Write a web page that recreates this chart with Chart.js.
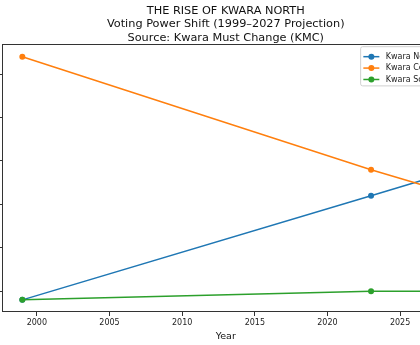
<!DOCTYPE html>
<html>
<head>
<meta charset="utf-8">
<script src="https://cdn.jsdelivr.net/npm/chart.js@4.4.1/dist/chart.umd.min.js"></script>
<style>
  html, body { margin: 0; padding: 0; background: #fff; overflow: hidden; width: 420px; height: 345px; }
  #wrap { position: absolute; left: -38px; top: 0; width: 526px; height: 345px; }
</style>
</head>
<body>
<div id="wrap"><canvas id="chart" width="526" height="345"></canvas></div>
<script>
// data
const years = [1999, 2023, 2027];
const north = [24, 36, 38];
const central = [52, 39, 37];
const south = [24, 25, 25];
const seriesNames = ['Kwara North', 'Kwara Central', 'Kwara South'];
const xTicks = [2000, 2005, 2010, 2015, 2020, 2025];
const yTicks = [25, 30, 35, 40, 45, 50];

const colors = ['#1f77b4', '#ff7f0e', '#2ca02c'];
const FONT = 'DejaVu Sans';

const toPoints = vals => years.map((y, i) => ({ x: y, y: vals[i] }));

// matplotlib style box around the axes
const framePlugin = {
  id: 'frame',
  afterDatasetsDraw(chart) {
    const a = chart.chartArea;
    const ctx = chart.ctx;
    ctx.save();
    ctx.strokeStyle = '#333';
    ctx.lineWidth = 1;
    const l = Math.round(a.left) + 0.5, t = Math.floor(a.top) + 0.5;
    const r = Math.round(a.right) + 0.5, b = Math.round(a.bottom) - 0.5;
    ctx.strokeRect(l, t, r - l, b - t);
    ctx.restore();
  }
};

// legend in the upper right corner, inside the axes
const boxLegend = {
  id: 'boxLegend',
  afterDraw(chart) {
    const ctx = chart.ctx;
    const a = chart.chartArea;
    const ds = chart.data.datasets;
    ctx.save();
    ctx.font = '8px "' + FONT + '"';
    const textW = Math.max(...ds.map(d => ctx.measureText(d.label).width));
    const pad = 3.2, handle = 16, gap = 6.4, rowH = 11.4;
    const w = pad + handle + gap + textW + pad;
    const h = rowH * ds.length + 5;
    const right = a.right - 4;
    const left = right - w;
    const top = a.top + 1.5;
    ctx.beginPath();
    ctx.roundRect(left + 0.5, top + 0.5, w, h, 2);
    ctx.fillStyle = 'rgba(255,255,255,0.8)';
    ctx.fill();
    ctx.strokeStyle = '#d0d0d0';
    ctx.lineWidth = 1;
    ctx.stroke();
    ds.forEach((d, i) => {
      const y = top + 10.5 + i * rowH;
      ctx.strokeStyle = d.borderColor;
      ctx.lineWidth = 1.5;
      ctx.beginPath();
      ctx.moveTo(left + pad, y);
      ctx.lineTo(left + pad + handle, y);
      ctx.stroke();
      ctx.fillStyle = d.borderColor;
      ctx.beginPath();
      ctx.arc(left + pad + handle / 2, y, 3, 0, Math.PI * 2);
      ctx.fill();
      ctx.fillStyle = '#222';
      ctx.textBaseline = 'middle';
      ctx.textAlign = 'left';
      ctx.fillText(d.label, left + pad + handle + gap, y);
    });
    ctx.restore();
  }
};

const makeSet = (i, vals, order) => ({
  label: seriesNames[i],
  data: toPoints(vals),
  borderColor: colors[i],
  backgroundColor: colors[i],
  borderWidth: 1.5,
  pointRadius: 3,
  pointBorderWidth: 0,
  pointHoverRadius: 3,
  tension: 0,
  order: order
});

new Chart(document.getElementById('chart'), {
  type: 'line',
  data: {
    datasets: [
      makeSet(0, north, 2),
      makeSet(1, central, 1),
      makeSet(2, south, 0)
    ]
  },
  options: {
    responsive: false,
    animation: false,
    devicePixelRatio: 1,
    layout: { padding: { left: 0, right: 38.5, top: 0, bottom: 0 } },
    plugins: {
      legend: { display: false },
      tooltip: { enabled: false },
      title: {
        display: true,
        fullSize: false,
        text: ['THE RISE OF KWARA NORTH', 'Voting Power Shift (1999–2027 Projection)', 'Source: Kwara Must Change (KMC)'],
        color: '#111',
        font: { family: FONT, size: 11.3, weight: 'normal', lineHeight: 1.2 },
        padding: { top: 4, bottom: 0 }
      }
    },
    scales: {
      x: {
        type: 'linear',
        min: 1997.6,
        max: 2028.4,
        afterBuildTicks: s => { s.ticks = xTicks.map(v => ({ value: v })); },
        afterFit: s => { s.height = 33; },
        grid: { drawOnChartArea: false, drawTicks: true, tickLength: 4, color: '#333' },
        border: { display: false },
        ticks: { color: '#222', font: { family: FONT, size: 8 }, padding: 2, maxRotation: 0, callback: v => String(v) },
        title: { display: true, text: 'Year', color: '#111', font: { family: FONT, size: 9.5 }, padding: { top: 0, bottom: 3 } }
      },
      y: {
        type: 'linear',
        min: 22.6,
        max: 53.4,
        afterBuildTicks: s => { s.ticks = yTicks.map(v => ({ value: v })); },
        afterFit: s => { s.width = 40; },
        grid: { drawOnChartArea: false, drawTicks: true, tickLength: 4, color: '#333' },
        border: { display: false },
        ticks: { color: '#222', font: { family: FONT, size: 8 }, padding: 2 }
      }
    }
  },
  plugins: [framePlugin, boxLegend]
});
</script>
</body>
</html>
